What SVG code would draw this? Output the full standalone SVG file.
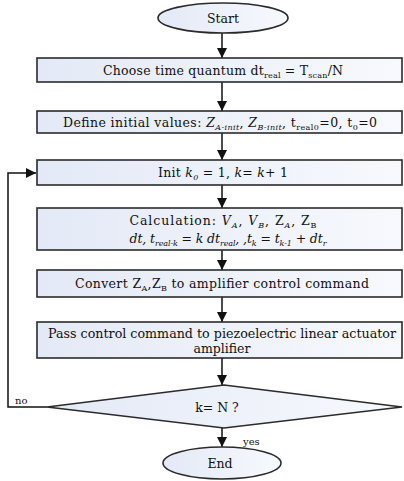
<svg xmlns="http://www.w3.org/2000/svg" width="404" height="481" viewBox="0 0 404 481">
<defs>
<linearGradient id="fillg" x1="0" y1="0" x2="1" y2="0">
<stop offset="0" stop-color="#e3e9f6"/>
<stop offset="1" stop-color="#f7f9fd"/>
</linearGradient>
<marker id="arr" viewBox="0 0 10 10" refX="10" refY="5" markerWidth="10" markerHeight="10" markerUnits="userSpaceOnUse" orient="auto">
<path d="M0,0 L10,5 L0,10 z" fill="#111"/>
</marker>
</defs>
<style>
.shape{fill:url(#fillg);stroke:#2b2b2b;stroke-width:1.6}
text{font-family:'DejaVu Serif',serif}
.t{font-size:12.5px;fill:#111;text-anchor:middle}
.s{font-size:8px}
.i{font-style:italic}
.conn{stroke:#111;stroke-width:1.5;fill:none}
.lab{font-size:10px;fill:#111}
</style>
<rect width="404" height="481" fill="#ffffff"/>
<g id="connectors">
<line class="conn" x1="222" y1="33" x2="222" y2="58" marker-end="url(#arr)"/>
<line class="conn" x1="222" y1="82" x2="222" y2="111" marker-end="url(#arr)"/>
<line class="conn" x1="222" y1="133" x2="222" y2="160" marker-end="url(#arr)"/>
<line class="conn" x1="222" y1="185" x2="222" y2="208" marker-end="url(#arr)"/>
<line class="conn" x1="222" y1="250" x2="222" y2="270" marker-end="url(#arr)"/>
<line class="conn" x1="222" y1="297" x2="222" y2="322" marker-end="url(#arr)"/>
<line class="conn" x1="222" y1="358" x2="222" y2="385" marker-end="url(#arr)"/>
<line class="conn" x1="222" y1="428" x2="222" y2="447" marker-end="url(#arr)"/>
<polyline class="conn" points="47,407 8,407 8,173 36,173" marker-end="url(#arr)"/>
<text class="lab" x="15" y="404">no</text>
<text class="lab" x="243" y="445">yes</text>
</g>
<g id="start">
<ellipse class="shape" cx="223" cy="18" rx="65" ry="15"/>
<text class="t" x="223" y="23">Start</text>
</g>
<g id="choose">
<rect class="shape" x="37" y="58" width="365" height="24"/>
<text class="t" x="223" y="75" textLength="240" lengthAdjust="spacing">Choose time quantum dt<tspan class="s" dy="3">real</tspan><tspan dy="-3"> = T</tspan><tspan class="s" dy="3">scan</tspan><tspan dy="-3">/N</tspan></text>
</g>
<g id="define">
<rect class="shape" x="37" y="111" width="365" height="22"/>
<text class="t" x="220" y="127" textLength="314" lengthAdjust="spacing">Define initial values: <tspan class="i">Z</tspan><tspan class="s i" dy="3">A-init</tspan><tspan dy="-3">, </tspan><tspan class="i">Z</tspan><tspan class="s i" dy="3">B-init</tspan><tspan dy="-3">, t</tspan><tspan class="s" dy="3">real0</tspan><tspan dy="-3">=0, t</tspan><tspan class="s" dy="3">0</tspan><tspan dy="-3">=0</tspan></text>
</g>
<g id="init">
<rect class="shape" x="37" y="160" width="365" height="25"/>
<text class="t" x="223" y="177" textLength="130" lengthAdjust="spacing">Init <tspan class="i">k</tspan><tspan class="s i" dy="3">0</tspan><tspan dy="-3"> = 1, </tspan><tspan class="i">k</tspan>= <tspan class="i">k</tspan>+ 1</text>
</g>
<g id="calc">
<rect class="shape" x="37" y="208" width="365" height="42"/>
<text class="t" x="223" y="225" textLength="187" lengthAdjust="spacing">Calculation: <tspan class="i">V</tspan><tspan class="s i" dy="3">A</tspan><tspan dy="-3">, </tspan><tspan class="i">V</tspan><tspan class="s i" dy="3">B</tspan><tspan dy="-3">,  Z</tspan><tspan class="s i" dy="3">A</tspan><tspan dy="-3">, Z</tspan><tspan class="s" dy="3">B</tspan></text>
<text class="t i" x="228" y="243" textLength="197" lengthAdjust="spacing">dt, t<tspan class="s" dy="3">real-k</tspan><tspan dy="-3"> = k dt</tspan><tspan class="s" dy="3">real</tspan><tspan dy="-3">, ,t</tspan><tspan class="s" dy="3">k</tspan><tspan dy="-3"> = t</tspan><tspan class="s" dy="3">k-1</tspan><tspan dy="-3"> + dt</tspan><tspan class="s" dy="3">r</tspan></text>
</g>
<g id="convert">
<rect class="shape" x="37" y="270" width="365" height="27"/>
<text class="t" x="222" y="288" textLength="294" lengthAdjust="spacing">Convert Z<tspan class="s" dy="3">A</tspan><tspan dy="-3">,Z</tspan><tspan class="s" dy="3">B</tspan><tspan dy="-3"> to amplifier control command</tspan></text>
</g>
<g id="pass">
<rect class="shape" x="37" y="322" width="365" height="36"/>
<text class="t" x="222" y="338" textLength="348" lengthAdjust="spacingAndGlyphs">Pass control command to piezoelectric linear actuator</text>
<text class="t" x="222" y="353">amplifier</text>
</g>
<g id="decision">
<polygon class="shape" points="224,385 402,407 224,428 47,407"/>
<text class="t" x="217" y="412">k= N ?</text>
</g>
<g id="end">
<ellipse class="shape" cx="222" cy="463" rx="59" ry="16"/>
<text class="t" x="220" y="468">End</text>
</g>
</svg>
